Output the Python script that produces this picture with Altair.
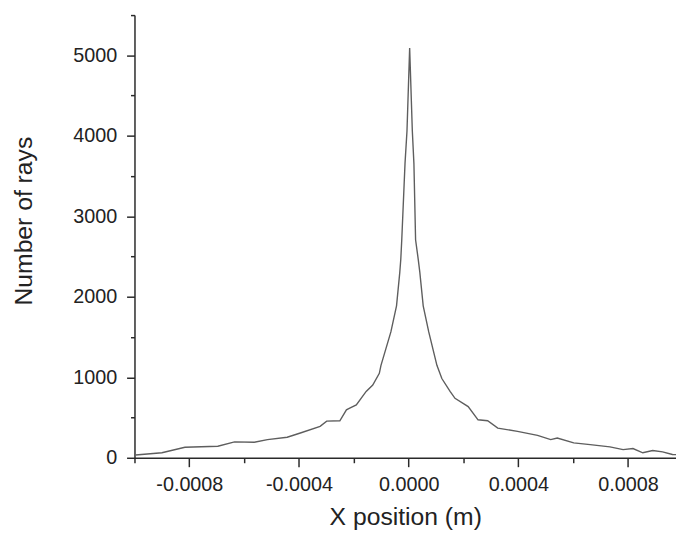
import altair as alt
import pandas as pd

# X position (m) and number of rays
x_pos = [-0.000996, -0.000900, -0.000816, -0.000696, -0.000635, -0.000563, -0.000515,
         -0.000443, -0.000395, -0.000323, -0.000299, -0.000251, -0.000227, -0.000215,
         -0.000191, -0.000155, -0.000131, -0.000107, -0.000101, -0.0000649, -0.0000443,
         -0.0000324, -0.0000288, -0.0000252, -0.0000133, -0.0000061, 0.0000036,
         0.0000133, 0.0000191, 0.0000252, 0.0000350, 0.0000407, 0.0000530, 0.0000732,
         0.000103, 0.000121, 0.000151, 0.000169, 0.000217, 0.000253, 0.000288, 0.000325,
         0.000397, 0.000470, 0.000518, 0.000542, 0.000602, 0.000662, 0.000734, 0.000782,
         0.000818, 0.000854, 0.000890, 0.000926, 0.000962, 0.000990]
rays = [35, 62, 131, 144, 197, 193, 226,
        255, 308, 390, 455, 460, 595, 616,
        657, 825, 903, 1050, 1149, 1564, 1888,
        2303, 2463, 2709, 3658, 4064, 5090,
        4064, 3658, 2709, 2463, 2303, 1888, 1564,
        1149, 985, 825, 739, 636, 472, 460, 369,
        328, 279, 226, 246, 185, 164, 135, 102,
        115, 62, 90, 74, 41, 38]

x_major = [-0.0008, -0.0004, 0.0, 0.0004, 0.0008]
x_minor = [-0.001, -0.0006, -0.0002, 0.0002, 0.0006]
y_major = [0, 1000, 2000, 3000, 4000, 5000]
y_minor = [500, 1500, 2500, 3500, 4500, 5500]

df = pd.DataFrame({"x": x_pos, "y": rays})

FONT = "Liberation Sans"
AX = "#2a2a2a"
xscale = alt.Scale(domain=[-0.001, 0.000975], nice=False, zero=False)
yscale = alt.Scale(domain=[0, 5500], nice=False, zero=True)

label_expr = "datum.value < 0 ? '-' + format(-datum.value, '.4f') : format(datum.value, '.4f')"

common = dict(domainColor=AX, domainWidth=1.5, tickColor=AX, tickWidth=1.5,
              grid=False, labelFont=FONT, titleFont=FONT, labelColor="#222222",
              titleColor="#222222")

line = alt.Chart(df).mark_line(color="#5e5e5e", strokeWidth=1.4, clip=True).encode(
    x=alt.X("x:Q", scale=xscale, axis=alt.Axis(
        orient="bottom", values=x_major, labelExpr=label_expr, title="X position (m)",
        tickSize=9, labelFontSize=20, labelPadding=8, titleFontSize=25,
        titleFontWeight="normal", titleBaseline="alphabetic", titleY=68, **common)),
    y=alt.Y("y:Q", scale=yscale, axis=alt.Axis(
        orient="left", values=y_major, format="d", title="Number of rays",
        tickSize=8, labelFontSize=20, labelPadding=10, titleFontSize=25,
        titleFontWeight="normal", titleBaseline="alphabetic", titleX=-104, titleY=208,
        **common)),
)

minor = alt.Chart(df).mark_line(strokeOpacity=0).encode(
    x=alt.X("x:Q", scale=xscale, axis=alt.Axis(
        orient="bottom", values=x_minor, labels=False, title="", domain=False,
        tickSize=5, **common)),
    y=alt.Y("y:Q", scale=yscale, axis=alt.Axis(
        orient="left", values=y_minor, labels=False, title="", domain=False,
        tickSize=4, **common)),
)

chart = alt.layer(line, minor).resolve_axis(x="independent", y="independent").properties(
    width=548, height=448,
    autosize=alt.AutoSizeParams(type="none"),
    padding={"left": 128, "top": 4, "right": 0, "bottom": 78},
    background="white",
).configure_view(stroke=None)

chart.save("out.html", embed_options={"renderer": "svg", "actions": False})
